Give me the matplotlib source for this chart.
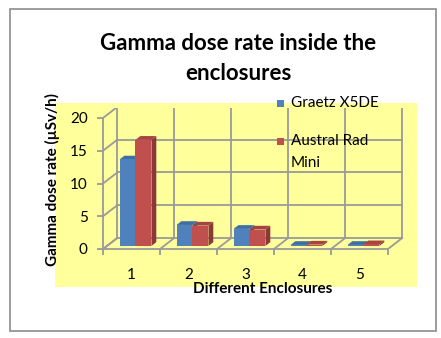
import matplotlib.pyplot as plt
from matplotlib.patches import Polygon, Rectangle

categories = ["1", "2", "3", "4", "5"]
graetz = [13.2, 3.2, 2.6, 0.15, 0.15]
austral = [16.2, 3.1, 2.5, 0.2, 0.25]
series_names = ["Graetz X5DE", "Austral Rad\nMini"]
yticks = [0, 5, 10, 15, 20]

blue, blue_top, blue_side = "#4f81bd", "#3f6ea6", "#385d8a"
red, red_top, red_side = "#c0504d", "#a54441", "#8c3836"
grid_c = "#9a9a9a"

plt.rcParams["font.family"] = ["Lato", "DejaVu Sans"]

W, H = 441, 338
fig = plt.figure(figsize=(W / 100, H / 100), dpi=100)

def fx(px):
    return px / W

def fy(py):
    return 1 - py / H

# chart border and yellow plot area
fig.patches.append(Rectangle((fx(10), fy(331)), fx(426), 322 / H, transform=fig.transFigure,
                             fill=False, ec="#8c8c8c", lw=1.2, zorder=-2))
fig.patches.append(Rectangle((fx(55), fy(287)), fx(362), 184 / H, transform=fig.transFigure,
                             fc="#ffff9c", ec="none", zorder=-1))

# axes: 57 px per category, 6.55 px per unit
xmax, ymax = 5.3, 21.6
ax = fig.add_axes([fx(103), fy(249), xmax * 57 / W, ymax * 6.55 / H])
ax.set_zorder(1)
ax.set_facecolor("none")
ax.set_xlim(0, xmax)
ax.set_ylim(0, ymax)

DX, DY = 0.25, 1.68
n = len(categories)

def proj(x, y, z):
    return (x + z * DX, y + z * DY)

# back wall
for v in yticks:
    ax.plot([proj(0, v, 1)[0], proj(n, v, 1)[0]], [proj(0, v, 1)[1]] * 2, color=grid_c, lw=1.3, zorder=1)
for i in range(n + 1):
    ax.plot([proj(i, 0, 1)[0]] * 2, [proj(i, 0, 1)[1], proj(i, yticks[-1], 1)[1]], color=grid_c, lw=1.3, zorder=1)
# side wall
for v in yticks:
    p0, p1 = proj(0, v, 0), proj(0, v, 1)
    ax.plot([p0[0], p1[0]], [p0[1], p1[1]], color=grid_c, lw=1.3, zorder=1)
# floor
for i in range(n + 1):
    p0, p1 = proj(i, 0, 0), proj(i, 0, 1)
    ax.plot([p0[0], p1[0]], [p0[1], p1[1]], color=grid_c, lw=1.3, zorder=1)

bw, z0, z1 = 0.28, 0.28, 0.62

def bar3d(x0, v, front, top, side):
    x1 = x0 + bw
    faces = [
        ([proj(x1, 0, z0), proj(x1, 0, z1), proj(x1, v, z1), proj(x1, v, z0)], side),
        ([proj(x0, v, z0), proj(x1, v, z0), proj(x1, v, z1), proj(x0, v, z1)], top),
        ([proj(x0, 0, z0), proj(x1, 0, z0), proj(x1, v, z0), proj(x0, v, z0)], front),
    ]
    for pts, c in faces:
        ax.add_patch(Polygon(pts, closed=True, fc=c, ec="none", zorder=3))

for i in range(n):
    bar3d(i + 0.5 - bw, graetz[i], blue, blue_top, blue_side)
    bar3d(i + 0.5, austral[i], red, red_top, red_side)

for s in ["top", "right"]:
    ax.spines[s].set_visible(False)
for s in ["left", "bottom"]:
    ax.spines[s].set_color(grid_c)
    ax.spines[s].set_linewidth(1.3)
ax.spines["left"].set_bounds(0, yticks[-1])
ax.spines["bottom"].set_bounds(0, n)

ax.set_yticks(yticks)
ax.set_yticklabels([str(t) for t in yticks], fontsize=11)
ax.tick_params(axis="y", length=4, width=1.3, color=grid_c, pad=7)
ax.set_xticks(range(n + 1))
ax.set_xticklabels([""] * (n + 1))
ax.tick_params(axis="x", which="major", length=4, width=1.3, color=grid_c)
ax.set_xticks([i + 0.5 for i in range(n)], minor=True)
ax.set_xticklabels(categories, minor=True, fontsize=11)
ax.tick_params(axis="x", which="minor", length=0, pad=14)

# titles
fig.text(fx(238), fy(43), "Gamma dose rate inside the", ha="center", va="center",
         fontsize=16, fontweight="bold")
fig.text(fx(238), fy(73), "enclosures", ha="center", va="center",
         fontsize=16, fontweight="bold")
fig.text(fx(263), fy(289), "Different Enclosures", ha="center", va="center",
         fontsize=11, fontweight="bold")
fig.text(fx(52), fy(180), "Gamma dose rate (\u00b5Sv/h)", ha="center", va="center",
         rotation=90, fontsize=11, fontweight="bold")

# legend
for (py, name, c) in [(103, series_names[0], blue), (142, series_names[1], red)]:
    fig.patches.append(Rectangle((fx(277), fy(py + 3.5)), fx(7), 7 / H, transform=fig.transFigure,
                                 fc=c, ec="none", zorder=5))
    fig.text(fx(291), fy(py - 8) if "\n" in name else fy(py), name, ha="left",
             va="top" if "\n" in name else "center",
             fontsize=11, linespacing=1.75, zorder=5)

fig.savefig("out.png", dpi=100)
